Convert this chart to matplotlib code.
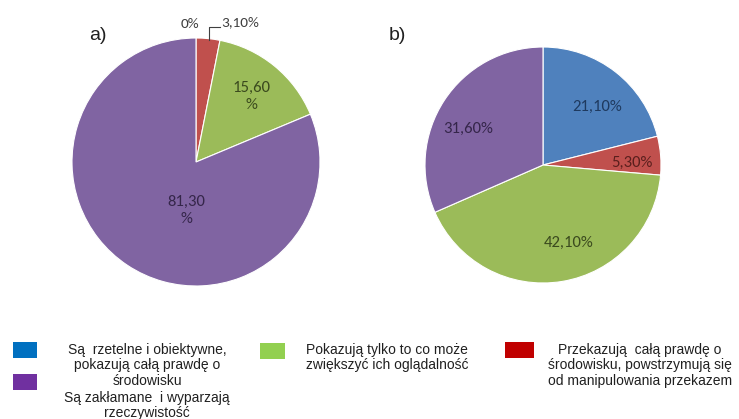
import matplotlib
matplotlib.use("Agg")
import matplotlib.pyplot as plt
import matplotlib.patches as mpatches

# Dane: udział odpowiedzi (%)
categories = ["rzetelne", "przekazuja", "pokazuja", "zaklamane"]
values_a = [0.0, 3.1, 15.6, 81.3]
values_b = [21.1, 5.3, 42.1, 31.6]
labels_a = ["0%", "3,10%", "15,60\n%", "81,30\n%"]
labels_b = ["21,10%", "5,30%", "42,10%", "31,60%"]

pie_colors = ["#4F81BD", "#C0504D", "#9BBB59", "#8064A2"]
text_colors = ["#1F3A5F", "#5A1F1D", "#3B4A1E", "#35264A"]

legend_colors = ["#0070C0", "#92D050", "#C00000", "#7030A0"]
legend_texts = ["Są  rzetelne i obiektywne,\npokazują całą prawdę o\nśrodowisku",
                "Pokazują tylko to co może\nzwiększyć ich oglądalność",
                "Przekazują  całą prawdę o\nśrodowisku, powstrzymują się\nod manipulowania przekazem",
                "Są zakłamane  i wyparzają\nrzeczywistość"]

W, H = 739, 419
fig = plt.figure(figsize=(W / 100, H / 100), dpi=100)

leg_font = ["Liberation Sans", "DejaVu Sans"]
lab_font = ["Carlito", "Lato", "DejaVu Sans"]


def pie_axes(cx, cy, r):
    return fig.add_axes([(cx - r) / W, (H - cy - r) / H, 2 * r / W, 2 * r / H])


# --- wykres a) ---
ax1 = pie_axes(196, 162, 124)
w1, t1 = ax1.pie(values_a, labels=labels_a, colors=pie_colors, startangle=90,
                 counterclock=False, labeldistance=0.72,
                 wedgeprops=dict(edgecolor="white", linewidth=0.8),
                 textprops=dict(fontsize=12, family=lab_font, ha="center",
                                va="center", linespacing=1.25))
ax1.set_xlim(-1, 1)
ax1.set_ylim(-1, 1)
for t, c in zip(t1, text_colors):
    t.set_color(c)
# etykiety małych wycinków poza kołem
t1[0].set_position((-0.05, 1.11))
t1[0].set_color("#404040")
t1[0].set_fontsize(11)
t1[1].set_position((0.36, 1.13))
t1[1].set_color("#404040")
t1[1].set_fontsize(11)
t1[2].set_position((0.45, 0.53))
t1[3].set_position((-0.08, -0.39))
ax1.plot([0.105, 0.105, 0.19], [0.98, 1.09, 1.09], color="#404040", lw=0.8,
         clip_on=False)
fig.text(98 / W, 1 - 35 / H, "a)", fontsize=14, family="Liberation Sans",
         ha="center", va="center", color="#202020")

# --- wykres b) ---
ax2 = pie_axes(543, 165, 118)
w2, t2 = ax2.pie(values_b, labels=labels_b, colors=pie_colors, startangle=90,
                 counterclock=False, labeldistance=0.72,
                 wedgeprops=dict(edgecolor="white", linewidth=0.8),
                 textprops=dict(fontsize=12, family=lab_font, ha="center",
                                va="center"))
ax2.set_xlim(-1, 1)
ax2.set_ylim(-1, 1)
for t, c in zip(t2, text_colors):
    t.set_color(c)
for t, pos in zip(t2, [(0.46, 0.49), (0.75, 0.02), (0.22, -0.66), (-0.63, 0.31)]):
    t.set_position(pos)
fig.text(397 / W, 1 - 36 / H, "b)", fontsize=14, family="Liberation Sans",
         ha="center", va="center", color="#202020")

# --- legenda ---
sq = [(13, 342, 24), (260, 343, 25), (505, 342, 29), (13, 374, 24)]
txt_pos = [(147, 343), (387, 343), (640, 343), (147, 391)]
for (x, y, sw), col, (tx, ty), txt in zip(sq, legend_colors, txt_pos, legend_texts):
    fig.patches.append(mpatches.Rectangle((x / W, 1 - (y + 16) / H), sw / W, 16 / H,
                                          facecolor=col, edgecolor="none",
                                          transform=fig.transFigure))
    fig.text(tx / W, 1 - ty / H, txt, ha="center", va="top", fontsize=10,
             family=leg_font, linespacing=1.12, color="#202020")

fig.savefig("out.png", dpi=100)
